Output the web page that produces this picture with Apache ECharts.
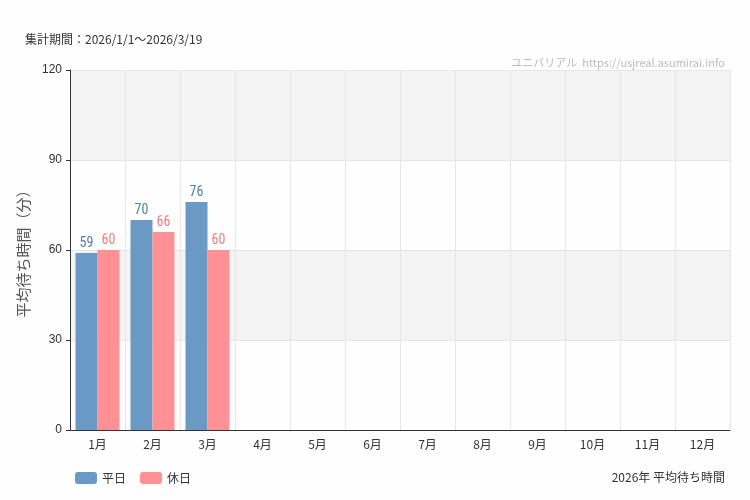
<!DOCTYPE html><html><head><meta charset="utf-8"><script src="https://cdn.jsdelivr.net/npm/echarts@6/dist/echarts.min.js"></script>
<style>body{margin:0}#c{width:750px;height:500px}</style></head><body><div id="c"></div><script>
const categories=['1月','2月','3月','4月','5月','6月','7月','8月','9月','10月','11月','12月'];
const weekday=[59,70,76,null,null,null,null,null,null,null,null,null];
const holiday=[60,66,60,null,null,null,null,null,null,null,null,null];
const ff='"Noto Sans CJK JP","Noto Sans",sans-serif';
const lab=c=>({show:true,position:'top',color:c,fontSize:14,fontFamily:'"Liberation Sans Narrow","Roboto Condensed",sans-serif',distance:3});
const ch=echarts.init(document.getElementById('c'));
ch.setOption({backgroundColor:'#fdfefd',animation:false,
title:[{text:'集計期間：2026/1/1～2026/3/19',left:20,top:28,textStyle:{fontSize:12,fontWeight:'normal',color:'#333',fontFamily:ff}},
{text:'ユニバリアル  https://usjreal.asumirai.info',right:20,top:52,textStyle:{fontSize:11,fontWeight:'normal',color:'#bbb',fontFamily:'"Liberation Sans Narrow",'+ff}},
{text:'2026年 平均待ち時間',right:20,top:466,textStyle:{fontSize:12,fontWeight:'normal',color:'#333',fontFamily:ff}}],
legend:{left:70,top:467,itemWidth:22,itemHeight:12,itemGap:14,textStyle:{fontSize:12,color:'#333',fontFamily:ff},data:['平日','休日']},
grid:{left:70,right:20,top:70,bottom:70},
xAxis:{type:'category',data:categories,axisLine:{lineStyle:{color:'#333'}},axisTick:{show:false},axisLabel:{color:'#333',fontSize:12,fontFamily:ff},splitLine:{show:true,lineStyle:{color:'#e6e6e6'}}},
yAxis:{type:'value',min:0,max:120,interval:30,name:'平均待ち時間（分）',nameLocation:'middle',nameGap:38,nameTextStyle:{fontSize:15,color:'#555',fontFamily:ff},
axisLine:{show:true,lineStyle:{color:'#333'}},axisTick:{show:true,length:4},axisLabel:{color:'#333',fontSize:12},
splitLine:{lineStyle:{color:'#e6e6e6'}},splitArea:{show:true,areaStyle:{color:['rgba(0,0,0,0)','#f4f4f4']}}},
series:[{name:'平日',type:'bar',data:weekday,barGap:'0%',barCategoryGap:'20%',itemStyle:{color:'#6b99c5'},label:lab('#4f7fb0')},
{name:'休日',type:'bar',data:holiday,itemStyle:{color:'#ff9194'},label:lab('#f47a7e')}]});
</script></body></html>
